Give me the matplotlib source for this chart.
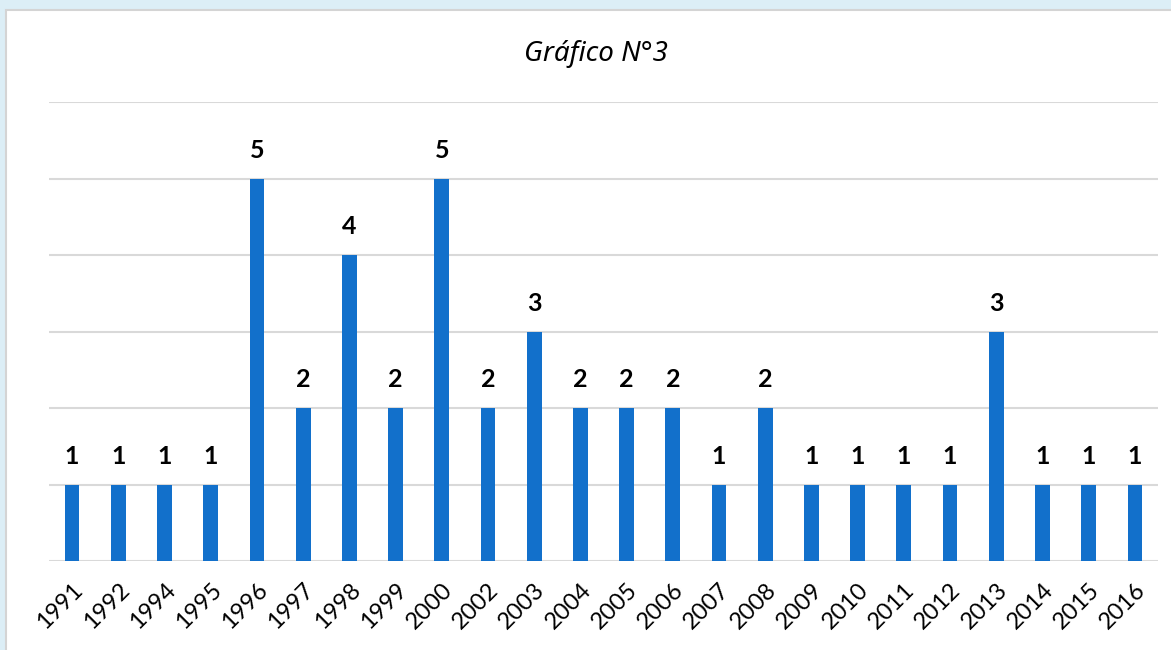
import matplotlib.pyplot as plt
from matplotlib.patches import Rectangle

# Data
years = ['1991', '1992', '1994', '1995', '1996', '1997', '1998', '1999', '2000',
         '2002', '2003', '2004', '2005', '2006', '2007', '2008', '2009', '2010',
         '2011', '2012', '2013', '2014', '2015', '2016']
counts = [1, 1, 1, 1, 5, 2, 4, 2, 5, 2, 3, 2, 2, 2, 1, 2, 1, 1, 1, 1, 3, 1, 1, 1]

fig = plt.figure(figsize=(11.71, 6.5), dpi=100, facecolor='#DCEEF6')

# white chart panel with thin grey border
fig.patches.append(Rectangle((6 / 1171, -0.05), 1.1, (650 - 10) / 650 + 0.05,
                             transform=fig.transFigure, facecolor='white',
                             edgecolor='#D4D4D4', linewidth=1.5, zorder=-10))

ax = fig.add_axes([49 / 1171, (650 - 561) / 650, (1158 - 49) / 1171, (561 - 102) / 650])
ax.set_facecolor('none')
ax.set_zorder(1)

x = range(len(years))
bars = ax.bar(x, counts, width=0.32, color='#1270CB', zorder=3)

for xi, c in zip(x, counts):
    ax.annotate(str(c), (xi, c), xytext=(0, 12), textcoords='offset points',
                ha='center', va='bottom', fontsize=18, fontweight='bold',
                family=['Lato', 'DejaVu Sans'])

ax.set_xlim(-0.5, len(years) - 0.5)
ax.set_ylim(0, 6)
ax.set_yticks(range(7))
ax.set_yticklabels([])
ax.grid(axis='y', color='#D9D9D9', linewidth=1.5, zorder=0)
ax.tick_params(length=0)
for s in ax.spines.values():
    s.set_visible(False)

ax.set_xticks(list(x))
ax.set_xticklabels(years, rotation=45, ha='right', rotation_mode='anchor',
                   fontsize=17, family=['Lato', 'DejaVu Sans'])
ax.tick_params(axis='x', pad=13)

fig.text(596 / 1171, 1 - 54 / 650, 'Gráfico N°3', ha='center', va='center',
         fontsize=20, style='italic', family='Noto Sans', zorder=2)

fig.savefig('out.png', dpi=100, facecolor=fig.get_facecolor())
